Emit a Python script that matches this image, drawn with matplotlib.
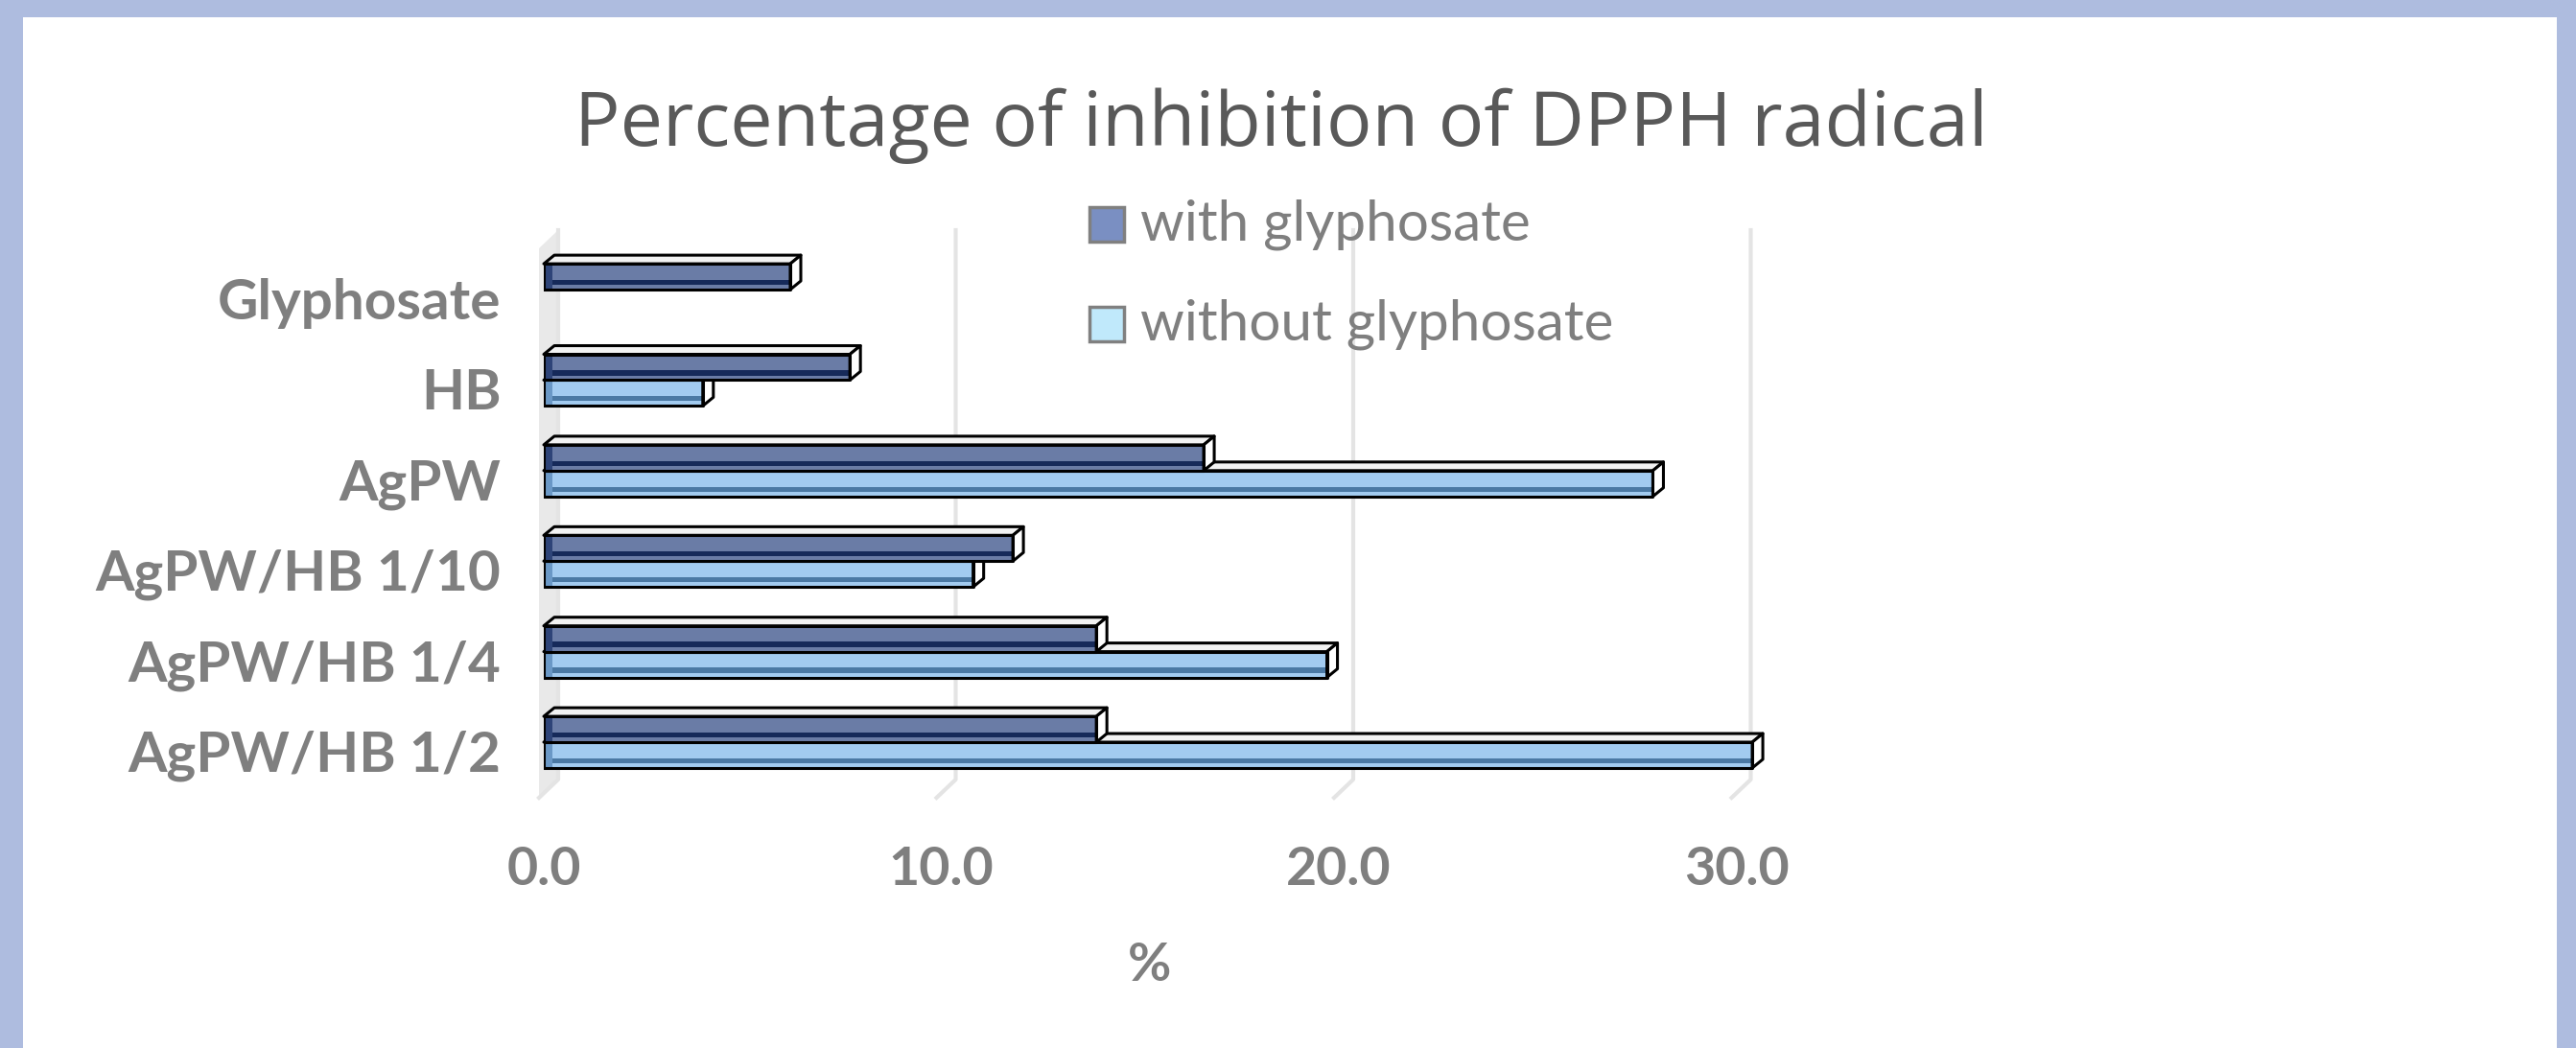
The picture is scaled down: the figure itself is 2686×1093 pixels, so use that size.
#!/usr/bin/env python3
"""
Percentage of inhibition of DPPH radical - 3D style horizontal bars
"""

import matplotlib
matplotlib.use("Agg")
import matplotlib.pyplot as plt
import matplotlib.transforms as mtransforms
from matplotlib.patches import Polygon, Rectangle

# dados
categories = ["Glyphosate", "HB", "AgPW", "AgPW/HB 1/10", "AgPW/HB 1/4", "AgPW/HB 1/2"]
with_glyphosate = [6.2, 7.7, 16.6, 11.8, 13.9, 13.9]
without_glyphosate = [None, 4.0, 27.9, 10.8, 19.7, 30.4]
series_names = ["with glyphosate", "without glyphosate"]
x_ticks = [0, 10, 20, 30]
x_tick_labels = ["0.0", "10.0", "20.0", "30.0"]

W, H = 2686, 1093
FONT = "Lato"
GRAY_TXT = "#7f7f7f"


def px_to_data(ax, dx, dy):
    inv = ax.transData.inverted()
    x0, y0 = inv.transform((0, 0))
    x1, y1 = inv.transform((dx, dy))
    return x1 - x0, y1 - y0


def draw_series(ax, values, offset, h, main, dark, bevel, z):
    idx = [i for i, v in enumerate(values) if v is not None]
    vals = [values[i] for i in idx]
    ys = [i + offset for i in idx]

    # frente da barra
    ax.barh(ys, vals, height=h, color=main, zorder=z)
    ax.barh([y + 0.22 * h for y in ys], vals, height=0.2 * h, color=dark, zorder=z + 0.1)
    bw, _ = px_to_data(ax, 9, 0)
    ax.barh(ys, [bw] * len(ys), height=h, color=bevel, zorder=z + 0.1)
    ax.barh(ys, vals, height=h, facecolor="none", edgecolor="black",
            linewidth=2.2, joinstyle="round", zorder=z + 0.3)

    # faces de cima e da ponta
    ddx, ddy = px_to_data(ax, 11, 9)
    for y, v in zip(ys, vals):
        top, bot = y - h / 2, y + h / 2
        ax.add_patch(Polygon([(0, top), (v, top), (v + ddx, top + ddy), (ddx, top + ddy)],
                             closed=True, facecolor="#f2f2f2", edgecolor="black",
                             linewidth=2.2, joinstyle="round", zorder=z + 0.2, clip_on=False))
        ax.add_patch(Polygon([(v, top), (v, bot), (v + ddx, bot + ddy), (v + ddx, top + ddy)],
                             closed=True, facecolor="white", edgecolor="black",
                             linewidth=2.2, joinstyle="round", zorder=z + 0.2, clip_on=False))


def make_chart():
    fig = plt.figure(figsize=(W / 100, H / 100), dpi=100)
    fig.patch.set_facecolor("#aebcdf")
    fig.patches.append(Rectangle((24 / W, 0), (2666 - 24) / W, (H - 18) / H,
                                 transform=fig.transFigure, facecolor="white",
                                 edgecolor="none", zorder=-10))

    ax = fig.add_axes([567 / W, (H - 832) / H, 1658 / W, (832 - 240) / H])
    ax.set_xlim(0, 40)
    y_top, y_bot = -0.657, 5.614
    ax.set_ylim(y_bot, y_top)
    ax.set_facecolor("none")
    for s in ax.spines.values():
        s.set_visible(False)

    # parede lateral e linhas de grade (fundo)
    gx_back, _ = px_to_data(ax, 15, 0)
    gx_front, _ = px_to_data(ax, -5, 0)
    _, dy_floor = px_to_data(ax, 0, 19)
    y_floor_back = y_bot + dy_floor
    ax.add_patch(Polygon([(gx_front, y_bot), (gx_back, y_floor_back), (gx_back, y_top),
                          (gx_front, y_top - dy_floor)], closed=True,
                         facecolor="#e9e9e9", edgecolor="none", zorder=0, clip_on=False))
    for v in x_ticks:
        ax.plot([v + gx_back, v + gx_back, v + gx_front], [y_top, y_floor_back, y_bot],
                color="#e4e4e4", linewidth=3, zorder=1, clip_on=False)

    h = 0.285
    draw_series(ax, without_glyphosate, h / 2, h, "#a2cbf0", "#4b79a4", "#6a98c6", 3)
    draw_series(ax, with_glyphosate, -h / 2, h, "#6a7ca6", "#162a5a", "#2e4478", 6)

    ax.set_yticks(range(len(categories)))
    ax.set_yticklabels(categories, fontsize=42, fontweight="bold", color=GRAY_TXT, family=FONT)
    ax.set_xticks(x_ticks)
    ax.set_xticklabels(x_tick_labels, fontsize=40, fontweight="bold", color=GRAY_TXT, family=FONT)
    ax.tick_params(axis="y", length=0, pad=32)
    ax.tick_params(axis="x", length=0, pad=36)
    shift = mtransforms.ScaledTranslation(0, -9 / 100, fig.dpi_scale_trans)
    for lbl in ax.get_yticklabels():
        lbl.set_transform(lbl.get_transform() + shift)

    fig.text(1336 / W, 1 - 131 / H, "Percentage of inhibition of DPPH radical",
             fontsize=57, color="#595959", family="Open Sans", ha="center", va="center")
    fig.text(1199 / W, 1 - 1007 / H, "%", fontsize=40, fontweight="bold",
             color=GRAY_TXT, family=FONT, ha="center", va="center")

    # legenda manual
    leg_colors = ["#7a8fc2", "#c0e9fb"]
    for k, (name, c) in enumerate(zip(series_names, leg_colors)):
        yc = 234 + k * 104
        fig.patches.append(Rectangle((1136 / W, 1 - (yc + 18) / H), 36 / W, 36 / H,
                                     transform=fig.transFigure, facecolor=c,
                                     edgecolor="#808080", linewidth=2.5, zorder=5))
        fig.text(1189 / W, 1 - yc / H, name, fontsize=42, color=GRAY_TXT,
                 family=FONT, ha="left", va="center", zorder=6)

    fig.savefig("out.png", dpi=100, facecolor=fig.get_facecolor())
    print("saved out.png")


if __name__ == "__main__":
    make_chart()
